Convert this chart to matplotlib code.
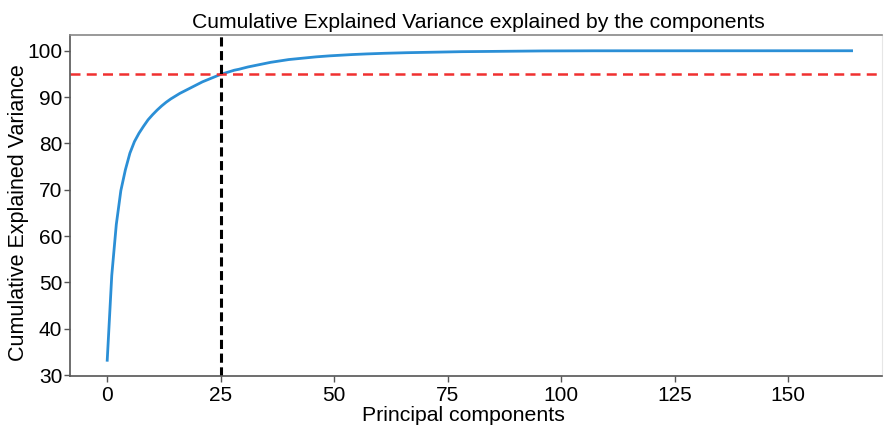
import matplotlib
matplotlib.use("Agg")
import matplotlib.pyplot as plt
import numpy as np

plt.rcParams['font.family'] = ['Liberation Sans', 'DejaVu Sans']

components = list(range(165))
cum_var = [
    33.2, 51.5, 62.5, 69.8, 74.3, 77.9, 80.4, 82.2, 83.7, 85.1,
    86.2, 87.2, 88.1, 88.9, 89.6, 90.2, 90.8, 91.3, 91.8, 92.3,
    92.8, 93.3, 93.7, 94.1, 94.5, 94.9, 95.2, 95.5, 95.8, 96.0,
    96.25, 96.5, 96.7, 96.9, 97.1, 97.3, 97.5, 97.65, 97.8, 97.95,
    98.1, 98.2, 98.3, 98.4, 98.5, 98.6, 98.68, 98.76, 98.83, 98.9,
    98.96, 99.02, 99.08, 99.13, 99.18, 99.23, 99.27, 99.31, 99.35, 99.39,
    99.42, 99.45, 99.48, 99.51, 99.53, 99.56, 99.58, 99.6, 99.62, 99.65,
    99.67, 99.69, 99.7, 99.72, 99.74, 99.75, 99.77, 99.78, 99.8, 99.81,
    99.82, 99.84, 99.85, 99.86, 99.87, 99.88, 99.89, 99.9, 99.91, 99.92,
    99.92, 99.93, 99.94, 99.94, 99.95, 99.95, 99.96, 99.96, 99.97, 99.97,
    99.97, 99.98, 99.98, 99.98, 99.98, 99.99, 99.99, 99.99, 99.99, 99.99,
    99.99, 99.99, 100.0, 100.0, 100.0, 100.0, 100.0, 100.0, 100.0, 100.0,
    100.0, 100.0, 100.0, 100.0, 100.0, 100.0, 100.0, 100.0, 100.0, 100.0,
    100.0, 100.0, 100.0, 100.0, 100.0, 100.0, 100.0, 100.0, 100.0, 100.0,
    100.0, 100.0, 100.0, 100.0, 100.0, 100.0, 100.0, 100.0, 100.0, 100.0,
    100.0, 100.0, 100.0, 100.0, 100.0, 100.0, 100.0, 100.0, 100.0, 100.0,
    100.0, 100.0, 100.0, 100.0, 100.0,
]
threshold = 95
n_selected = 25
x_ticks = [0, 25, 50, 75, 100, 125, 150]
y_ticks = [30, 40, 50, 60, 70, 80, 90, 100]

fig = plt.figure(figsize=(8.89, 4.30), dpi=100)
ax = fig.add_axes([70/889, 1-376/430, (882-70)/889, (376-35)/430])

ax.plot(components, cum_var, color='#2b8fd6', linewidth=2)
ax.axhline(threshold, color='#f03030', linestyle=(0, (4, 2.5)), linewidth=1.8)
ax.axvline(n_selected, color='black', linestyle=(0, (3, 1.5)), linewidth=2.2)

ax.set_xlim(-8.2, 170.7)
ax.set_ylim(29.8, 103.4)
ax.set_xticks(x_ticks)
ax.set_yticks(y_ticks)
ax.tick_params(axis='both', labelsize=15, length=4.5, width=1, color='#555555')
ax.tick_params(axis='x', pad=3)
ax.tick_params(axis='y', pad=1)

for side in ['left', 'bottom']:
    ax.spines[side].set_color('#555555')
    ax.spines[side].set_linewidth(1.2)
ax.spines['top'].set_color('#888888')
ax.spines['top'].set_linewidth(1.2)
ax.spines['right'].set_color('#e6e6e6')
ax.spines['right'].set_linewidth(0.8)

ax.set_title('Cumulative Explained Variance explained by the components', fontsize=15.2, pad=5, x=0.5025)
ax.set_xlabel('Principal components', fontsize=15.3)
ax.set_ylabel('Cumulative Explained Variance', fontsize=15.5)
ax.xaxis.set_label_coords(0.485, -0.088)
ax.yaxis.set_label_coords(-0.05, 0.48)

fig.savefig('out.png', dpi=100)
